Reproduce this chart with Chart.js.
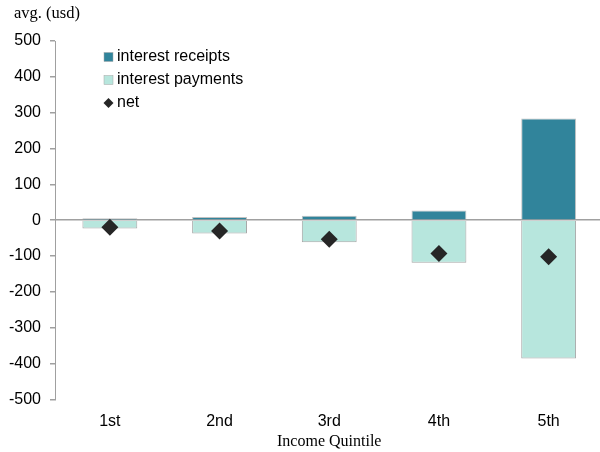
<!DOCTYPE html>
<html>
<head>
<meta charset="utf-8">
<script src="https://cdn.jsdelivr.net/npm/chart.js@4"></script>
<style>
  html, body { margin: 0; padding: 0; background: #fff; overflow: hidden; }
  #wrap { width: 612px; height: 452px; }
</style>
</head>
<body>
<div id="wrap"><canvas id="chart" width="612" height="452"></canvas></div>
<script>
const quintiles = ["1st", "2nd", "3rd", "4th", "5th"];
const receipts = [5, 9, 12, 27, 284];
const payments = [-23, -37, -62, -119, -386];
const net = [-20, -30, -53, -93, -102];
const yTicks = [500, 400, 300, 200, 100, 0, -100, -200, -300, -400, -500];

const sans = "'Liberation Sans', Arial, sans-serif";
const serif = "'Liberation Serif', 'Times New Roman', serif";

// legend + unit label drawn inside the plot
const extras = {
  id: "extras",
  afterDraw(chart) {
    const c = chart.ctx;
    c.save();
    c.fillStyle = "#000";
    c.font = "16.5px " + serif;
    c.textBaseline = "middle";
    c.fillText("avg. (usd)", 14, 14);

    c.font = "16px " + sans;
    const items = [
      { label: "interest receipts", y: 57, kind: "box", color: "#31849b" },
      { label: "interest payments", y: 80, kind: "box", color: "#b7e6dd" },
      { label: "net", y: 103, kind: "diamond", color: "#262626" }
    ];
    items.forEach(it => {
      if (it.kind === "box") {
        c.fillStyle = it.color;
        c.fillRect(104, it.y - 4.5, 9, 9);
        c.strokeStyle = "#a6a6a6";
        c.lineWidth = 0.5;
        c.strokeRect(104, it.y - 4.5, 9, 9);
      } else {
        c.fillStyle = it.color;
        c.beginPath();
        c.moveTo(108.5, it.y - 5);
        c.lineTo(113.5, it.y);
        c.lineTo(108.5, it.y + 5);
        c.lineTo(103.5, it.y);
        c.closePath();
        c.fill();
      }
      c.fillStyle = "#000";
      c.fillText(it.label, 117, it.y);
    });
    c.restore();
  }
};

const ctx = document.getElementById("chart").getContext("2d");
new Chart(ctx, {
  type: "bar",
  data: {
    labels: quintiles,
    datasets: [
      {
        type: "line",
        label: "net",
        data: net,
        showLine: false,
        pointStyle: "rectRot",
        pointRadius: 8.5,
        pointBackgroundColor: "#262626",
        pointBorderColor: "#262626",
        pointBorderWidth: 0,
        stack: "net",
        order: 0
      },
      {
        label: "interest receipts",
        data: receipts,
        backgroundColor: "#31849b",
        borderColor: "rgba(166,166,166,0.7)",
        borderWidth: 1,
        stack: "flows",
        order: 1
      },
      {
        label: "interest payments",
        data: payments,
        backgroundColor: "#b7e6dd",
        borderColor: "#a6a6a6",
        borderWidth: 1,
        stack: "flows",
        order: 1
      }
    ]
  },
  options: {
    responsive: false,
    animation: false,
    layout: { padding: { top: 41, right: 0, left: 0, bottom: 0 } },
    plugins: {
      legend: { display: false },
      tooltip: { enabled: false }
    },
    datasets: {
      bar: { categoryPercentage: 1, barPercentage: 0.5 }
    },
    scales: {
      x: {
        stacked: true,
        offset: true,
        grid: { display: false, drawTicks: false },
        border: { display: false },
        ticks: { color: "#000", font: { family: sans, size: 16 }, padding: 13 },
        title: {
          display: true,
          text: "Income Quintile",
          color: "#000",
          font: { family: serif, size: 16 },
          padding: { top: 2, bottom: 1 }
        },
        afterFit(s) { s.height = 52.7; }
      },
      y: {
        stacked: true,
        min: -500,
        max: 500,
        afterBuildTicks(s) { s.ticks = yTicks.map(v => ({ value: v })); },
        grid: {
          color: c => (c.tick && c.tick.value === 0 ? "#a0a0a0" : "transparent"),
          lineWidth: 1.5,
          tickColor: "#a0a0a0",
          tickLength: 5,
          drawTicks: true
        },
        border: { display: true, color: "#a0a0a0", width: 1 },
        ticks: { color: "#000", font: { family: sans, size: 16 }, padding: 9 },
        afterFit(s) { s.width = 55; }
      }
    }
  },
  plugins: [extras]
});
</script>
</body>
</html>
